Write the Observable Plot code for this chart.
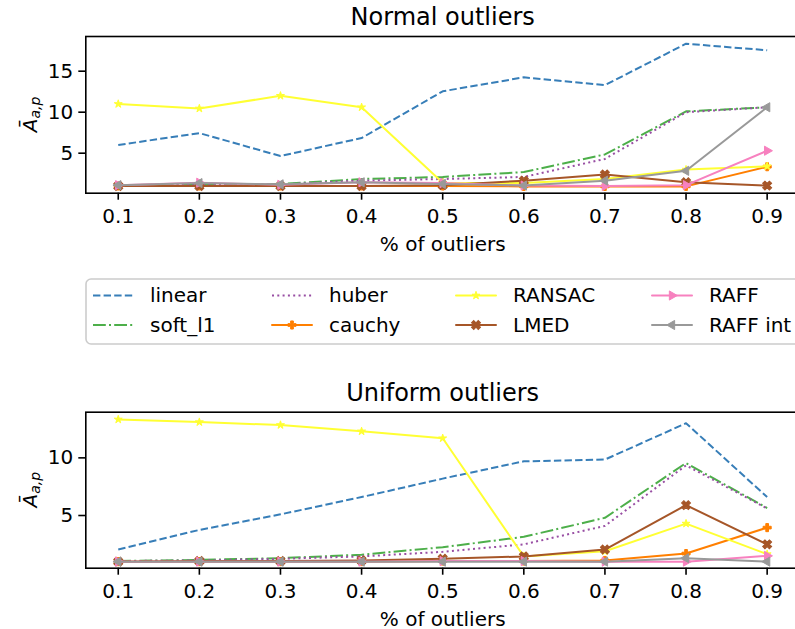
<!DOCTYPE html>
<html><head><meta charset="utf-8">
<script src="https://cdn.jsdelivr.net/npm/d3@7"></script>
<script src="https://cdn.jsdelivr.net/npm/@observablehq/plot@0.6"></script>
<style>
html,body{margin:0;padding:0;background:#fff;overflow:hidden}
#root{position:relative;width:795px;height:629px;overflow:hidden;background:#fff;font-family:"DejaVu Sans"}
#root > svg{position:absolute;left:0}
</style></head><body><div id="root"></div>
<script>
// ---- data ----
const xs = [0.1, 0.2, 0.3, 0.4, 0.5, 0.6, 0.7, 0.8, 0.9];
const series = ["linear", "soft_l1", "huber", "cauchy", "RANSAC", "LMED", "RAFF", "RAFF int"];
const xLabel = "% of outliers";
const titles = ["Normal outliers", "Uniform outliers"];
const yTicksNormal = [5, 10, 15];
const yTicksUniform = [5, 10];

// Normal outliers
const normalLinear  = [6.0, 7.45, 4.65, 6.85, 12.55, 14.25, 13.3, 18.35, 17.55];
const normalSoftL1  = [1.1, 1.2, 1.25, 1.85, 2.1, 2.7, 4.85, 10.1, 10.6];
const normalHuber   = [1.1, 1.15, 1.2, 1.65, 1.85, 2.1, 4.3, 10.0, 10.6];
const normalCauchy  = [1.0, 1.0, 1.0, 1.0, 1.0, 0.95, 0.95, 0.95, 3.35];
const normalRansac  = [11.0, 10.45, 12.0, 10.6, 1.4, 1.35, 1.85, 3.0, 3.4];
const normalLmed    = [1.0, 1.0, 1.0, 1.0, 1.1, 1.65, 2.4, 1.45, 1.05];
const normalRaff    = [1.1, 1.4, 1.15, 1.45, 1.35, 1.05, 1.0, 1.1, 5.3];
const normalRaffInt = [1.1, 1.35, 1.2, 1.45, 1.25, 1.05, 1.65, 2.85, 10.6];

// Uniform outliers
const uniformLinear  = [2.05, 3.75, 5.1, 6.6, 8.2, 9.7, 9.85, 13.0, 6.6];
const uniformSoftL1  = [1.05, 1.15, 1.3, 1.6, 2.25, 3.15, 4.8, 9.55, 5.65];
const uniformHuber   = [1.05, 1.1, 1.25, 1.45, 1.85, 2.5, 4.1, 9.35, 5.6];
const uniformCauchy  = [1.0, 1.0, 1.0, 1.0, 1.05, 1.05, 1.1, 1.7, 3.95];
const uniformRansac  = [13.33, 13.1, 12.85, 12.3, 11.7, 1.45, 1.9, 4.3, 1.65];
const uniformLmed    = [1.0, 1.05, 1.05, 1.1, 1.25, 1.45, 2.05, 5.9, 2.5];
const uniformRaff    = [1.0, 1.0, 1.0, 1.0, 1.05, 1.05, 1.0, 1.0, 1.5];
const uniformRaffInt = [1.0, 1.0, 1.0, 1.0, 1.0, 1.0, 1.0, 1.3, 1.0];

// ---- styles ----
const styles = {
  "linear":   {color: "#377eb8", dash: "7.4,3.2"},
  "soft_l1":  {color: "#4daf4a", dash: "12.8,3.2,2,3.2"},
  "huber":    {color: "#984ea3", dash: "2,3.3"},
  "cauchy":   {color: "#ff7f00", symbol: "cross", r: 3.4, rotate: 0},
  "RANSAC":   {color: "#ffff33", symbol: "star", r: 2.5, rotate: 0},
  "LMED":     {color: "#a65628", symbol: "cross", r: 4.0, rotate: 45},
  "RAFF":     {color: "#f781bf", symbol: "triangle", r: 3.4, rotate: 90},
  "RAFF int": {color: "#999999", symbol: "triangle", r: 3.4, rotate: -90}
};
const FONT = "DejaVu Sans";
const W = 820, LEFT = 85.3, RIGHT_EDGE = 799.1;

function chart(values, {title, yDomain, yTicks, top, height, axTop, axBottom}) {
  const marks = [];
  series.forEach((name, i) => {
    const rows = xs.map((x, j) => ({x, y: values[i][j]}));
    const st = styles[name];
    marks.push(Plot.line(rows, {x: "x", y: "y", stroke: st.color, strokeWidth: 2,
      strokeDasharray: st.dash, strokeLinecap: st.dash ? "butt" : "round", strokeLinejoin: "round"}));
    if (st.symbol) marks.push(Plot.dot(rows, {x: "x", y: "y", symbol: st.symbol, r: st.r,
      rotate: st.rotate, fill: st.color, stroke: st.color, strokeWidth: 1}));
  });
  marks.push(Plot.axisX(xs, {tickSize: 7, tickPadding: 9, tickFormat: d => d.toFixed(1), label: null, strokeWidth: 1.6}));
  marks.push(Plot.axisY(yTicks, {tickSize: 7, tickPadding: 5.5, label: null, strokeWidth: 1.6}));
  marks.push(Plot.frame({stroke: "black", strokeWidth: 1.6}));
  marks.push(Plot.text([title], {text: d => d, frameAnchor: "top", dy: -18.7, fontSize: 24, lineAnchor: "middle"}));
  marks.push(Plot.text([xLabel], {text: d => d, frameAnchor: "bottom", dy: 51.1, fontSize: 20, lineAnchor: "middle"}));
  const svg = Plot.plot({
    width: W, height,
    marginLeft: LEFT, marginRight: W - RIGHT_EDGE,
    marginTop: axTop, marginBottom: height - axBottom,
    x: {domain: [0.06, 0.94]},
    y: {domain: yDomain},
    style: {fontFamily: FONT, fontSize: "20px", color: "black", background: "white", maxWidth: "none", overflow: "visible"},
    marks
  });
  svg.style.top = top + "px";
  // y label: \bar{A}_{a,p}
  const cy = (axTop + axBottom) / 2;
  const t = d3.select(svg).append("text")
    .attr("transform", `translate(36.5,${cy}) rotate(-90)`)
    .attr("text-anchor", "middle").attr("font-family", FONT).attr("font-size", 20).attr("fill", "black");
  t.append("tspan").attr("font-style", "italic").text("Ā");
  t.append("tspan").attr("font-size", 14).attr("font-style", "italic").attr("dy", 3).text("a,p");
  return svg;
}

const root = document.getElementById("root");
root.appendChild(chart([normalLinear, normalSoftL1, normalHuber, normalCauchy, normalRansac, normalLmed, normalRaff, normalRaffInt],
  {title: titles[0], yDomain: [0.12, 19.23], yTicks: yTicksNormal, top: 0, height: 265, axTop: 36, axBottom: 192.7}));
root.appendChild(chart([uniformLinear, uniformSoftL1, uniformHuber, uniformCauchy, uniformRansac, uniformLmed, uniformRaff, uniformRaffInt],
  {title: titles[1], yDomain: [0.43, 13.96], yTicks: yTicksUniform, top: 380, height: 249, axTop: 31.7, axBottom: 187.7}));

// ---- legend ----
const symbolTypes = {cross: d3.symbolCross, star: d3.symbolStar, triangle: d3.symbolTriangle};
const lg = d3.select(root).append("svg").attr("width", 795).attr("height", 80)
  .style("position", "absolute").style("top", "270px").style("left", "0px");
lg.append("rect").attr("x", 86).attr("y", 9).attr("width", 740).attr("height", 65).attr("rx", 5)
  .attr("fill", "white").attr("stroke", "#cccccc").attr("stroke-width", 1.6);
const colX = [93, 272, 456, 652];
const rowY = [25.5, 55];
series.forEach((name, i) => {
  const st = styles[name];
  const c = Math.floor(i / 2), r = i % 2;
  const x1 = colX[c], x2 = x1 + 40, y = rowY[r];
  lg.append("line").attr("x1", x1).attr("x2", x2).attr("y1", y).attr("y2", y)
    .attr("stroke", st.color).attr("stroke-width", 2)
    .attr("stroke-dasharray", st.dash || null).attr("stroke-linecap", st.dash ? "butt" : "round");
  if (st.symbol) {
    lg.append("path")
      .attr("d", d3.symbol(symbolTypes[st.symbol], st.r * st.r * Math.PI)())
      .attr("transform", `translate(${(x1 + x2) / 2},${y}) rotate(${st.rotate})`)
      .attr("fill", st.color).attr("stroke", st.color).attr("stroke-width", 1);
  }
  lg.append("text").attr("x", x1 + 57).attr("y", y + 6.8)
    .attr("font-family", FONT).attr("font-size", 20).attr("fill", "black").text(name);
});
</script></body></html>
